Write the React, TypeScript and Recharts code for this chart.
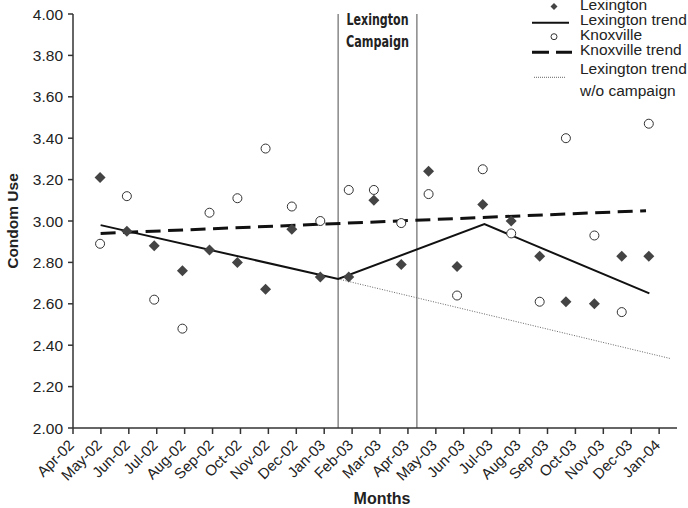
import React from 'react';
import {
  ComposedChart, Scatter, Line, XAxis, YAxis, ReferenceLine, ReferenceArea, Legend,
} from 'recharts';

const FONT = "'Liberation Sans', Arial, Helvetica, sans-serif";
const NARROW = "'Liberation Sans Narrow', 'DejaVu Sans Condensed', 'Liberation Sans', sans-serif";

// category labels on the month axis (tick i = start of month i)
const months = [
  'Apr-02', 'May-02', 'Jun-02', 'Jul-02', 'Aug-02', 'Sep-02', 'Oct-02', 'Nov-02', 'Dec-02', 'Jan-03', 'Feb-03',
  'Mar-03', 'Apr-03', 'May-03', 'Jun-03', 'Jul-03', 'Aug-03', 'Sep-03', 'Oct-03', 'Nov-03', 'Dec-03', 'Jan-04',
];
const yTicks = [2.0, 2.2, 2.4, 2.6, 2.8, 3.0, 3.2, 3.4, 3.6, 3.8, 4.0];

// survey waves, position in months from Apr-02
const obsMonth = [
  0.97, 1.93, 2.91, 3.92, 4.89, 5.89, 6.9, 7.84, 8.86, 9.88, 10.78,
  11.76, 12.74, 13.76, 14.68, 15.7, 16.72, 17.66, 18.68, 19.66, 20.63,
];
const lexington = [
  3.21, 2.95, 2.88, 2.76, 2.86, 2.8, 2.67, 2.96, 2.73, 2.73, 3.1,
  2.79, 3.24, 2.78, 3.08, 3.0, 2.83, 2.61, 2.6, 2.83, 2.83,
];
const knoxville = [
  2.89, 3.12, 2.62, 2.48, 3.04, 3.11, 3.35, 3.07, 3.0, 3.15, 3.15,
  2.99, 3.13, 2.64, 3.25, 2.94, 2.61, 3.4, 2.93, 2.56, 3.47,
];

// fitted trends
const lexTrendX = [0.99, 9.5, 14.74, 20.65];
const lexTrendY = [2.98, 2.72, 2.985, 2.65];
const knoxTrendX = [0.99, 20.53];
const knoxTrendY = [2.94, 3.05];
const noCampX = [9.5, 21.39];
const noCampY = [2.72, 2.336];

const campaign = [9.5, 12.32];

const toPts = (xs: number[], ys: number[]) => xs.map((x, i) => ({ x, y: ys[i] }));
const lexPts = toPts(obsMonth, lexington);
const knoxPts = toPts(obsMonth, knoxville);
const lexTrend = toPts(lexTrendX, lexTrendY);
const knoxTrend = toPts(knoxTrendX, knoxTrendY);
const noCampTrend = toPts(noCampX, noCampY);

const Diamond = (props: any) => {
  const { cx, cy } = props;
  const r = 5.5;
  return <polygon points={`${cx},${cy - r} ${cx + r},${cy} ${cx},${cy + r} ${cx - r},${cy}`} fill="#444" />;
};

const Ring = (props: any) => {
  const { cx, cy } = props;
  return <circle cx={cx} cy={cy} r={4.5} fill="#fff" stroke="#333" strokeWidth={1} />;
};

const MonthTick = (props: any) => {
  const { x, y, payload } = props;
  const tx = x + 2;
  const ty = y + 12;
  return (
    <text x={tx} y={ty} transform={`rotate(-45, ${tx}, ${ty})`} textAnchor="end"
      fontSize={15} fontFamily={FONT} fill="#222">
      {months[payload.value]}
    </text>
  );
};

// condensed bold heading between the two campaign lines
const CampaignLabel = (props: any) => {
  const { x, width, y } = props.viewBox;
  const cx = x + width / 2;
  return (
    <g fontFamily={NARROW} fontWeight="bold" fontSize={16} fill="#222" textAnchor="middle">
      <text x={cx} y={y + 11} textLength={62} lengthAdjust="spacingAndGlyphs">Lexington</text>
      <text x={cx} y={y + 33} textLength={63} lengthAdjust="spacingAndGlyphs">Campaign</text>
    </g>
  );
};

const KeyBox = () => (
  <svg width={160} height={100} style={{ overflow: 'visible' }}>
    <g fontFamily={FONT} fontSize={15.5} fill="#222">
      <polygon points="26,3 29.5,6.5 26,10 22.5,6.5" fill="#444" />
      <text x={52} y={10}>Lexington</text>
      <line x1={4} x2={41} y1={22.7} y2={22.7} stroke="#111" strokeWidth={2} />
      <text x={52} y={25}>Lexington trend</text>
      <circle cx={26} cy={36.7} r={3} fill="#fff" stroke="#333" />
      <text x={52} y={40}>Knoxville</text>
      <line x1={4} x2={44} y1={52.3} y2={52.3} stroke="#111" strokeWidth={3} strokeDasharray="17 7" />
      <text x={52} y={55}>Knoxville trend</text>
      <text x={52} y={74}>Lexington trend</text>
      <line x1={6} x2={38} y1={77.3} y2={77.3} stroke="#666" strokeWidth={1} strokeDasharray="1 1" />
      <text x={52} y={96}>w/o campaign</text>
    </g>
  </svg>
);

export default function App() {
  return (
    <div style={{ position: 'absolute', left: 0, top: 0, background: '#fff' }}>
      <ComposedChart width={688} height={508} margin={{ top: 14, right: 11, bottom: 0, left: 0 }}>
        <XAxis
          type="number"
          dataKey="x"
          domain={[0, 21.64]}
          ticks={months.map((_, i) => i)}
          interval={0}
          allowDataOverflow
          tick={<MonthTick />}
          tickSize={6}
          tickMargin={0}
          height={80}
          axisLine={{ stroke: '#333', strokeWidth: 1.5 }}
          tickLine={{ stroke: '#333', strokeWidth: 1.5 }}
          label={{
            content: (p: any) => (
              <text x={p.viewBox.x + p.viewBox.width / 2 + 7} y={p.viewBox.y + p.viewBox.height - 4}
                textAnchor="middle" fontFamily={FONT} fontWeight="bold" fontSize={16} fill="#222">
                Months
              </text>
            ),
          }}
        />
        <YAxis
          type="number"
          dataKey="y"
          domain={[2, 4]}
          ticks={yTicks}
          interval={0}
          width={73}
          tickSize={5}
          tickMargin={5}
          tickFormatter={(v: number) => v.toFixed(2)}
          tick={{ fontSize: 15.5, fontFamily: FONT, fill: '#222' }}
          axisLine={{ stroke: '#333', strokeWidth: 1.5 }}
          tickLine={{ stroke: '#333', strokeWidth: 1.5 }}
          label={{
            content: (p: any) => (
              <text x={18} y={p.viewBox.y + p.viewBox.height / 2} transform={`rotate(-90, 18, ${p.viewBox.y + p.viewBox.height / 2})`}
                textAnchor="middle" fontFamily={FONT} fontWeight="bold" fontSize={15.5} fill="#222">
                Condom Use
              </text>
            ),
          }}
        />
        <ReferenceArea x1={campaign[0]} x2={campaign[1]} fill="#fff" fillOpacity={0} stroke="none"
          label={{ content: CampaignLabel }} />
        <ReferenceLine x={campaign[0]} stroke="#888" strokeWidth={1.5} />
        <ReferenceLine x={campaign[1]} stroke="#888" strokeWidth={1.5} />
        <Line data={noCampTrend} dataKey="y" type="linear" stroke="#666" strokeWidth={1} strokeDasharray="1 1.5"
          dot={false} activeDot={false} isAnimationActive={false} />
        <Line data={knoxTrend} dataKey="y" type="linear" stroke="#111" strokeWidth={3} strokeDasharray="15 7.5"
          dot={false} activeDot={false} isAnimationActive={false} />
        <Line data={lexTrend} dataKey="y" type="linear" stroke="#111" strokeWidth={2}
          dot={false} activeDot={false} isAnimationActive={false} />
        <Scatter data={knoxPts} shape={Ring} isAnimationActive={false} />
        <Scatter data={lexPts} shape={Diamond} isAnimationActive={false} />
        <Legend layout="horizontal" verticalAlign="middle" align="center" content={KeyBox}
          wrapperStyle={{ position: 'absolute', left: 528, top: 0, width: 160, height: 100 }} />
      </ComposedChart>
    </div>
  );
}
